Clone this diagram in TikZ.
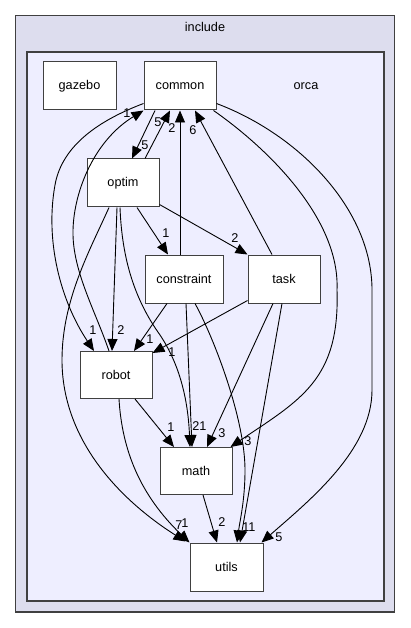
\documentclass[tikz,border=0pt]{standalone}
\usepackage{fontspec}
\setmainfont{Liberation Sans}
\usetikzlibrary{arrows.meta}
\definecolor{outerfill}{HTML}{DDDDEE}
\definecolor{innerfill}{HTML}{EEEEFF}
\definecolor{clusterline}{HTML}{404040}
\begin{document}
\begin{tikzpicture}[x=1pt,y=-1pt,
  dirbox/.style={draw=clusterline,line width=1pt,fill=white,rectangle,minimum width=72pt,minimum height=48pt,inner sep=0pt,font=\fontsize{12.7}{15}\selectfont},
  lab/.style={inner sep=0pt,font=\fontsize{12.7}{15}\selectfont},
  dep/.style={draw=black,line width=0.9pt,-{Triangle[length=12pt,width=10pt]}},
  cluster/.style={draw=clusterline,line width=1.3pt}]
\path[use as bounding box] (0,0) rectangle (411,628);
\draw[cluster,fill=outerfill] (15.5,15.5) rectangle (394.5,612);
\draw[cluster,fill=innerfill] (27,52) rectangle (384,601);
\node[lab] (tinclude) at (205,27) {include};
\node[lab] (torca) at (306,86) {orca};
% nodes
\node[dirbox,minimum width=73pt] (gazebo) at (79.5,86) {gazebo};
\node[dirbox] (common) at (180,86) {common};
\node[dirbox] (optim) at (123,183) {optim};
\node[dirbox,minimum width=78pt] (constraint) at (184,279) {constraint};
\node[dirbox] (task) at (284,279) {task};
\node[dirbox,minimum height=47pt] (robot) at (116,375) {robot};
\node[dirbox,minimum height=47pt] (math) at (196,471) {math};
\node[dirbox,minimum width=73pt] (utils) at (226.5,567) {utils};
% edges
\draw[dep] ([xshift=-25pt]common.south) -- ([xshift=9pt]optim.north);
\draw[dep] ([xshift=22pt]optim.north) -- ([xshift=-10pt]common.south);
\draw[dep] ([xshift=-4pt]constraint.north) -- (common.south);
\draw[dep] ([xshift=-12pt]task.north) -- ([xshift=15pt]common.south);
\draw[dep] ([xshift=-7pt]robot.north) .. controls (95,310) and (72,270) .. (73,230)
   .. controls (74,190) and (95,140) .. (common.south west);
\draw[dep] ([yshift=7pt]common.south west) .. controls (100,120) and (62,145) .. (55,185)
   .. controls (45,240) and (60,300) .. ([xshift=-22pt]robot.north);
\draw[dep] ([xshift=-6pt]optim.south) -- ([xshift=-4pt]robot.north);
\draw[dep] ([xshift=-14pt]optim.south) .. controls (90,250) and (62,300) .. (62,360)
   .. controls (62,440) and (120,500) .. ([xshift=-4pt,yshift=1pt]utils.north west);
\draw[dep] ([xshift=-3pt]optim.south) .. controls (122,260) and (135,300) .. (160,335)
   .. controls (180,365) and (188,400) .. ([xshift=-6pt]math.north);
\draw[dep] ([xshift=14pt]optim.south) -- ([xshift=-16pt]constraint.north);
\draw[dep] ([yshift=3pt]optim.south east) -- (task.north west);
\draw[dep] ([xshift=-17pt]constraint.south) -- ([xshift=18pt]robot.north);
\draw[dep] ([xshift=2pt]constraint.south) -- ([xshift=-4pt]math.north);
\draw[dep] ([xshift=11pt]constraint.south) .. controls (215,340) and (245,420) .. (245,470)
   .. controls (245,500) and (240,520) .. ([xshift=10.5pt]utils.north);
\draw[dep] ([yshift=3pt]task.south west) -- ([yshift=-2pt]robot.north east);
\draw[dep] ([xshift=-11pt]task.south) -- ([xshift=11pt]math.north);
\draw[dep] ([xshift=-2pt]task.south) -- ([xshift=13.5pt]utils.north);
\draw[dep] ([xshift=-3pt]common.south east) .. controls (270,150) and (340,220) .. (337,290)
   .. controls (340,380) and (300,400) .. ([xshift=-2pt]math.north east);
\draw[dep] ([yshift=7pt]common.south east) .. controls (300,135) and (372,210) .. (372,290)
   .. controls (372,330) and (372,360) .. (372,390)
   .. controls (372,450) and (310,500) .. ([xshift=-2pt]utils.north east);
\draw[dep] ([xshift=3pt]robot.south) .. controls (122,450) and (140,495) .. (utils.north west);
\draw[dep] ([xshift=19pt]robot.south) -- ([xshift=-22pt]math.north);
\draw[dep] ([xshift=7pt]math.south) -- ([xshift=-9.5pt]utils.north);
% labels
\node[lab] (l1) at (127,113) {1};
\node[lab] (l2) at (158,122) {5};
\node[lab] (l3) at (172,128) {2};
\node[lab] (l4) at (193,130) {6};
\node[lab] (l5) at (145,145) {5};
\node[lab] (l6) at (166,233) {1};
\node[lab] (l7) at (235,238) {2};
\node[lab] (l8) at (93,330) {1};
\node[lab] (l9) at (121,330) {2};
\node[lab] (l10) at (150,339) {1};
\node[lab] (l11) at (172,352) {1};
\node[lab] (l12) at (171,427) {1};
\node[lab] (l13) at (196,426) {2};
\node[lab] (l14) at (203,426) {1};
\node[lab] (l15) at (222,433) {3};
\node[lab] (l16) at (248,441) {3};
\node[lab] (l17) at (179,525) {7};
\node[lab] (l18) at (185,523) {1};
\node[lab] (l19) at (222,522) {2};
\node[lab] (l20) at (246,527) {1};
\node[lab] (l21) at (252,527) {1};
\node[lab] (l22) at (279,537) {5};
\end{tikzpicture}
\end{document}
